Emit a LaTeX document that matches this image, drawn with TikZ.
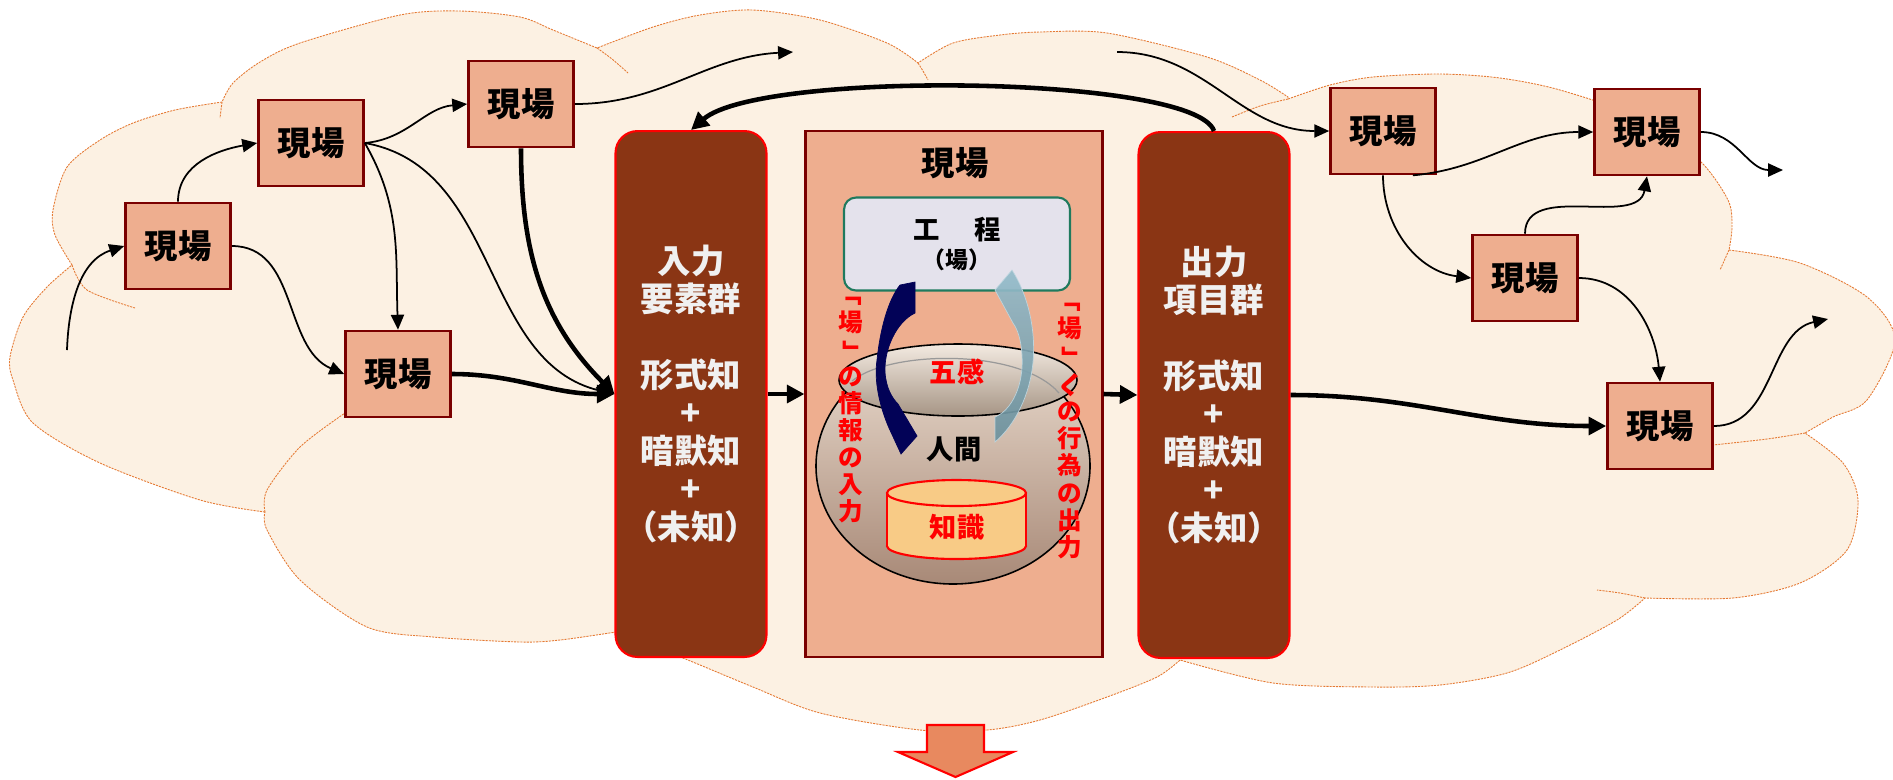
\documentclass[tikz,border=0pt]{standalone}
\usepackage{fontspec}
\setmainfont{Noto Sans CJK JP}
\usetikzlibrary{arrows.meta}

\definecolor{cloudfill}{HTML}{FCF1E3}
\definecolor{cloudline}{HTML}{E57A34}
\definecolor{genbafill}{HTML}{EEAE8F}
\definecolor{genbaline}{HTML}{7A0000}
\definecolor{groupfill}{HTML}{8A3514}
\definecolor{kouteifill}{HTML}{E4E2EC}
\definecolor{kouteiline}{HTML}{1F7A5E}
\definecolor{chishikifill}{HTML}{F8CB86}
\definecolor{potlight}{HTML}{EADCCF}
\definecolor{potdark}{HTML}{A88977}
\definecolor{rimlight}{HTML}{F3EAE1}
\definecolor{rimdark}{HTML}{A69585}
\definecolor{navyarrow}{HTML}{020257}
\definecolor{bluearrow}{HTML}{94BCCB}
\definecolor{bluearrowd}{HTML}{6D919D}
\definecolor{downarrow}{HTML}{E8895F}

\newcommand{\vopen}{\rotatebox[origin=c]{-90}{「}}
\newcommand{\vclose}{\rotatebox[origin=c]{-90}{」}}

\tikzset{
    cloud/.style = {fill=cloudfill, draw=cloudline, line width=0.5pt, dash pattern=on 1.2pt off 0.6pt},
    cloudedge/.style = {draw=cloudline, line width=0.5pt, dash pattern=on 1.2pt off 0.6pt},
    genba/.style = {rectangle, line width=1.5pt, draw=genbaline, fill=genbafill, minimum width=2.1cm, minimum height=1.72cm, inner sep=0pt, font=\fontsize{19}{21}\selectfont\bfseries},
    groupbox/.style = {rectangle, rounded corners=0.44cm, line width=1.2pt, draw=red, fill=groupfill, minimum width=3.02cm, minimum height=10.52cm, align=center, text=white!94!black, font=\fontsize{19}{21.7}\selectfont\bfseries},
    babox/.style = {rectangle, line width=1.2pt, draw=genbaline, fill=genbafill, minimum width=5.94cm, minimum height=10.52cm},
    koutei/.style = {rectangle, rounded corners=0.24cm, line width=1.2pt, draw=kouteiline, fill=kouteifill, minimum width=4.52cm, minimum height=1.86cm, align=center, font=\fontsize{15}{16.4}\selectfont\bfseries},
    potbody/.style = {draw=black, line width=0.9pt, top color=potlight, bottom color=potdark},
    potrim/.style = {draw=black, line width=0.9pt, top color=rimlight, bottom color=rimdark},
    cyl/.style = {draw=red, fill=chishikifill, line width=1.2pt},
    redv/.style = {align=center, text=red, inner sep=0pt, font=\fontsize{14}{15.4}\selectfont\bfseries},
    label/.style = {inner sep=0pt, font=\fontsize{15.5}{17}\selectfont\bfseries},
    edgen/.style = {-{Triangle[length=8.5pt,width=7.5pt]}, line width=1pt, black},
    edgek/.style = {-{Triangle[length=10pt,width=10pt]}, line width=2.6pt, black}
}

\begin{document}
\begin{tikzpicture}[x=0.02cm, y=-0.02cm]
\useasboundingbox (0,0) rectangle (1893,779);

% cloud outline, one puff after another
\path[cloud]
    plot[smooth] coordinates {(265,512) (200,500) (100,463) (33,423) (13,380) (10,357) (23,317) (47,287) (72,265)}
 -- plot[smooth] coordinates {(72,265) (55,235) (53,210) (67,167) (100,140) (133,123) (175,110) (222,102)}
 -- plot[smooth] coordinates {(222,102) (233,83) (260,62) (300,43) (400,15) (460,11) (520,17) (553,30) (597,48)}
 -- plot[smooth] coordinates {(597,48) (653,27) (700,15) (753,10) (820,20) (887,43) (918,63)}
 -- plot[smooth] coordinates {(918,63) (953,43) (1000,35) (1040,32) (1107,33) (1207,57) (1260,80) (1288,97)}
 -- plot[smooth] coordinates {(1288,99) (1330,85) (1373,77) (1440,74) (1500,78) (1560,90) (1640,118) (1699,160) (1728,200) (1732,227) (1729,250)}
 -- plot[smooth] coordinates {(1729,250) (1800,263) (1867,297) (1895,340) (1867,400) (1833,417) (1805,433)}
 -- plot[smooth] coordinates {(1805,433) (1843,463) (1858,500) (1847,550) (1800,583) (1733,598) (1645,598)}
 -- plot[smooth] coordinates {(1645,598) (1617,620) (1560,650) (1507,673) (1440,685) (1373,687) (1273,683) (1180,660)}
 -- plot[smooth] coordinates {(1180,660) (1157,677) (1107,697) (1040,720) (987,730) (920,730) (820,713) (753,687) (683,658) (616,632)}
 -- plot[smooth] coordinates {(616,632) (560,640) (520,642) (433,637) (367,627) (300,580) (267,530) (265,512)}
 -- cycle;
\draw[cloudedge] plot[smooth] coordinates {(72,265) (87,290) (135,308)};
\draw[cloudedge] (222,102) -- (220,118);
\draw[cloudedge] plot[smooth] coordinates {(597,48) (612,59) (628,73)};
\draw[cloudedge] plot[smooth] coordinates {(918,63) (923,71) (928,80)};
\draw[cloudedge] plot[smooth] coordinates {(1288,99) (1260,106) (1232,117)};
\draw[cloudedge] (1729,250) -- (1720,270);
\draw[cloudedge] plot[smooth] coordinates {(1805,433) (1767,439) (1713,445)};
\draw[cloudedge] plot[smooth] coordinates {(1645,598) (1620,593) (1597,590)};
\draw[cloudedge] plot[smooth] coordinates {(265,512) (267,490) (300,447) (345,413)};

% sites
\node[genba] at ( 178, 246) (a) {現場};
\node[genba] at ( 311, 143) (b) {現場};
\node[genba] at ( 521, 104) (c) {現場};
\node[genba] at ( 398, 374) (d) {現場};
\node[genba] at (1383, 131) (e) {現場};
\node[genba] at (1647, 132) (f) {現場};
\node[genba] at (1525, 278) (g) {現場};
\node[genba] at (1660, 426) (h) {現場};

\node[groupbox] at ( 691, 394) (inp) {入力\\要素群\\\mbox{}\\形式知\\+\\暗默知\\+\\（未知）};
\node[babox] at ( 954, 394) (ba) {};
\node[groupbox] at (1214, 395) (outp) {出力\\項目群\\\mbox{}\\形式知\\+\\暗默知\\+\\（未知）};
\node[inner sep=0pt, font=\fontsize{19}{21}\selectfont\bfseries] at (955,163) (batitle) {現場};
\node[koutei] at (957,244) (kt) {工\hspace{1.3em}程\\{\fontsize{13}{15}\selectfont （場）}};

% free ends
\coordinate (s0) at (67,350);
\coordinate (t1) at (793,52);
\coordinate (s2) at (1117,52);
\coordinate (t3) at (1783,170);
\coordinate (t4) at (1828,319);

\draw[edgen] (s0) to[out=88,in=198] (a.west);
\draw[edgen] (a.north) to[out=90,in=190] (b.west);
\draw[edgen] (a.east) to[out=0,in=157] (d.west);
\draw[edgen] (b.east) to[out=5,in=185] (c.west);
\draw[edgen] (b.east) to[out=-60,in=92] (d.north);
\draw[edgen] (b.east) to[out=-10,in=167] (inp.west);
\draw[edgen] (c.east) to[out=0,in=183] (t1);
\draw[edgek] (c.south) to[out=-90,in=135] (inp.west);
\draw[edgek] (d.east) to[out=0,in=180] (inp.west);
\draw[edgek] (inp.east) -- (ba.west);
\draw[edgek] (ba.east) -- (outp.west);
\draw[edgek] (outp.north) .. controls (1195,75) and (760,70) .. (inp.north);
\draw[edgek] (outp.east) to[out=0,in=180] (h.west);
\draw[edgen] (s2) to[out=0,in=180] (e.west);
\draw[edgen] (e.-56) to[out=5,in=180] (f.west);
\draw[edgen] (e.south) to[out=-90,in=173] (g.west);
\draw[edgen] (g.north) to[out=90,in=-100] (f.south);
\draw[edgen] (f.east) to[out=0,in=180] (t3);
\draw[edgen] (g.east) to[out=0,in=95] (h.north);
\draw[edgen] (h.east) to[out=0,in=192] (t4);

% the pot
\draw[potbody] (953,466) ellipse [x radius=137, y radius=118];
\draw[potrim] (958,380) ellipse [x radius=119, y radius=36];
\draw[gray!80, line width=0.7pt] (852,381) .. controls (890,350) and (1020,348) .. (1059,393);

% knowledge drum
\filldraw[cyl] (956.5,546) ellipse [x radius=69.5, y radius=13];
\fill[chishikifill] (887,493) rectangle (1026,546);
\draw[red, line width=1.2pt] (887,493) -- (887,546) (1026,493) -- (1026,546);
\filldraw[cyl] (956.5,493) ellipse [x radius=69.5, y radius=13];

\node[label, text=red] at (957,372) (gokan) {五感};
\node[label] at (954,449) (ningen) {人間};
\node[label, text=red] at (957,527) (chishiki) {知識};

% curved arrows
\filldraw[navyarrow, line width=0.4pt] (900,285) -- (915,282) -- (915,313)
    .. controls (896,322) and (884,350) .. (885,372) .. controls (886,388) and (892,398) .. (898,404)
    -- (917,436) -- (901,454) -- (889,428)
    .. controls (879,405) and (874,380) .. (877,360) .. controls (880,330) and (888,300) .. cycle;
\draw[top color=bluearrow, bottom color=bluearrowd, draw=bluearrow!60!white, line width=0.4pt, opacity=0.92]
    (1012,270) .. controls (1028,295) and (1036,330) .. (1033,362)
    .. controls (1030,395) and (1015,425) .. (995,442) -- (995,417)
    .. controls (1012,410) and (1024,385) .. (1022,355) .. controls (1021,340) and (1018,330) .. (1013,323)
    -- (995,290) -- cycle;

\node[redv] at (851,402) (nyuryoku) {\vopen\\場\\\vclose\\の\\情\\報\\の\\入\\力};
\node[redv] at (1070,423) (shutsuryoku) {\vopen\\場\\\vclose\\\rotatebox[origin=c]{90}{へ}\\の\\行\\為\\の\\出\\力};

% arrow down
\draw[fill=downarrow, draw=red, line width=1.2pt] (927,725) -- (984,725) -- (984,752) -- (1013,752)
    -- (955.5,777) -- (898,752) -- (927,752) -- cycle;

\end{tikzpicture}
\end{document}
